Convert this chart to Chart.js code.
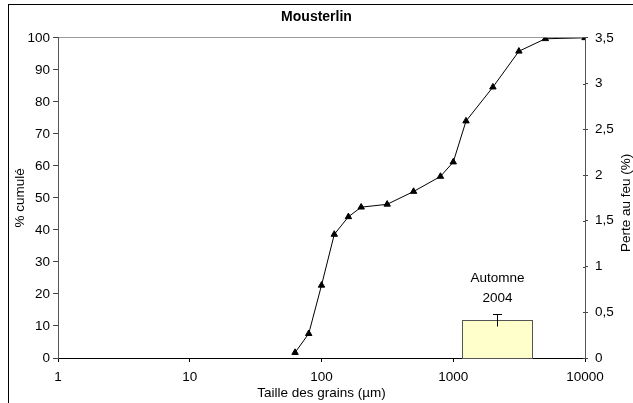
<!DOCTYPE html>
<html>
<head>
<meta charset="utf-8">
<script src="https://cdn.jsdelivr.net/npm/chart.js@4"></script>
<style>
  html, body { margin: 0; padding: 0; background: #fff; overflow: hidden; }
  #frame { position: absolute; left: 8px; top: 4px; width: 700px; height: 500px;
           border-left: 1px solid #000; border-top: 1px solid #000; }
  #c { position: absolute; left: 0; top: 0; }
</style>
</head>
<body>
<div id="frame"></div>
<canvas id="c" width="633" height="403"></canvas>
<script>
// Cumulative grain-size curve (sieve sizes in µm, cumulative %)
const grainSizes = [63, 80, 100, 125, 160, 200, 315, 500, 800, 1000, 1250, 2000, 3150, 5000, 10000];
const cumulativePct = [1.7, 7.6, 22.7, 38.6, 44.1, 47.1, 48.0, 52.0, 56.7, 61.2, 74.0, 84.6, 95.8, 99.7, 100];
const xTicks = [1, 10, 100, 1000, 10000];

// Loss on ignition (right axis, %)
const lossLabel = ['Automne', '2004'];
const lossRange = [1160, 3940];
const lossValue = [0.42];
const lossError = [0.065];

const FAMILY = '"Liberation Sans", Arial, sans-serif';
const FS = 13.5;
Chart.defaults.font.family = FAMILY;
const tickFont = { family: FAMILY, size: FS };

// Draws the loss-on-ignition bar, its error bar, its label, the inner tick
// marks of the right axis and the right axis title
const lossBar = {
  id: 'lossBar',
  beforeDatasetsDraw(chart) {
    const { ctx, scales: { x, y1 } } = chart;
    const left = Math.round(x.getPixelForValue(lossRange[0]));
    const right = Math.round(x.getPixelForValue(lossRange[1]));
    const top = Math.round(y1.getPixelForValue(lossValue[0]));
    const base = Math.round(y1.getPixelForValue(0));
    ctx.save();
    ctx.fillStyle = '#FFFFCC';
    ctx.fillRect(left, top, right - left, base - top);
    ctx.strokeStyle = '#555';
    ctx.lineWidth = 1;
    ctx.strokeRect(left + 0.5, top + 0.5, right - left, base - top);

    const cx = Math.round(x.getPixelForValue(Math.sqrt(lossRange[0] * lossRange[1]))) + 0.5;
    const eHi = Math.round(y1.getPixelForValue(lossValue[0] + lossError[0])) + 0.5;
    const eLo = Math.round(y1.getPixelForValue(lossValue[0] - lossError[0])) + 0.5;
    ctx.strokeStyle = '#000';
    ctx.beginPath();
    ctx.moveTo(cx, eLo); ctx.lineTo(cx, eHi);
    ctx.moveTo(cx - 4.5, eHi); ctx.lineTo(cx + 4.5, eHi);
    ctx.stroke();

    ctx.fillStyle = '#000';
    ctx.font = FS + 'px ' + FAMILY;
    ctx.textAlign = 'center';
    ctx.textBaseline = 'middle';
    ctx.fillText(lossLabel[0], cx, eHi - 36);
    ctx.fillText(lossLabel[1], cx, eHi - 16);

    // inner half of the right axis tick marks
    ctx.strokeStyle = '#444';
    ctx.beginPath();
    y1.ticks.forEach(t => {
      const py = Math.round(y1.getPixelForValue(t.value)) + 0.5;
      ctx.moveTo(y1.left - 2, py); ctx.lineTo(y1.left, py);
    });
    ctx.stroke();
    ctx.restore();
  },
  afterDraw(chart) {
    const { ctx, chartArea } = chart;
    ctx.save();
    ctx.fillStyle = '#000';
    ctx.font = FS + 'px ' + FAMILY;
    ctx.textAlign = 'center';
    ctx.textBaseline = 'middle';
    ctx.translate(626, (chartArea.top + chartArea.bottom) / 2 + 5);
    ctx.rotate(-Math.PI / 2);
    ctx.fillText('Perte au feu (%)', 0, 0);
    ctx.restore();
  }
};

new Chart(document.getElementById('c'), {
  type: 'scatter',
  data: {
    datasets: [{
      data: grainSizes.map((g, i) => ({ x: g, y: cumulativePct[i] })),
      showLine: true,
      borderColor: '#000',
      borderWidth: 1,
      backgroundColor: '#000',
      pointStyle: 'triangle',
      pointRadius: 3.7,
      pointHoverRadius: 3.7,
      pointBorderWidth: 1,
      yAxisID: 'y'
    }]
  },
  options: {
    responsive: false,
    animation: false,
    events: [],
    layout: { padding: 0 },
    plugins: {
      legend: { display: false },
      tooltip: { enabled: false },
      title: {
        display: true,
        text: 'Mousterlin',
        color: '#000',
        font: { family: FAMILY, size: 14, weight: 'bold' },
        padding: { top: 9, bottom: 12 }
      }
    },
    scales: {
      x: {
        type: 'logarithmic',
        position: 'bottom',
        min: 1,
        max: 10000,
        afterBuildTicks: s => { s.ticks = xTicks.map(v => ({ value: v })); },
        afterFit: s => { s.height = 45; },
        grid: { drawOnChartArea: false, drawTicks: true, tickLength: 4, tickColor: '#000' },
        border: { color: '#000', width: 1 },
        ticks: { color: '#000', font: tickFont, padding: 7, maxRotation: 0, autoSkip: false,
                 callback: v => String(v) },
        title: { display: true, text: 'Taille des grains (µm)', color: '#000', font: tickFont,
                 padding: { top: 0, bottom: 2 } }
      },
      y: {
        position: 'left',
        min: 0,
        max: 100,
        afterFit: s => { s.width = 58; },
        grid: {
          drawTicks: true,
          tickLength: 5,
          tickColor: '#444',
          color: c => (c.tick && c.tick.value === 100) ? '#9a9a9a' : 'rgba(0,0,0,0)'
        },
        border: { color: '#555', width: 1 },
        ticks: { stepSize: 10, color: '#000', font: tickFont, padding: 3 },
        title: { display: true, text: '% cumulé', color: '#000', font: tickFont,
                 padding: { top: 12, bottom: 0 } }
      },
      y1: {
        position: 'right',
        min: 0,
        max: 3.5,
        afterFit: s => { s.width = 48; },
        grid: { drawOnChartArea: false, drawTicks: true, tickLength: 3, tickColor: '#444' },
        border: { color: '#555', width: 1 },
        ticks: { stepSize: 0.5, color: '#000', font: tickFont, padding: 7,
                 callback: v => String(v).replace('.', ',') }
      }
    }
  },
  plugins: [lossBar]
});
</script>
</body>
</html>
